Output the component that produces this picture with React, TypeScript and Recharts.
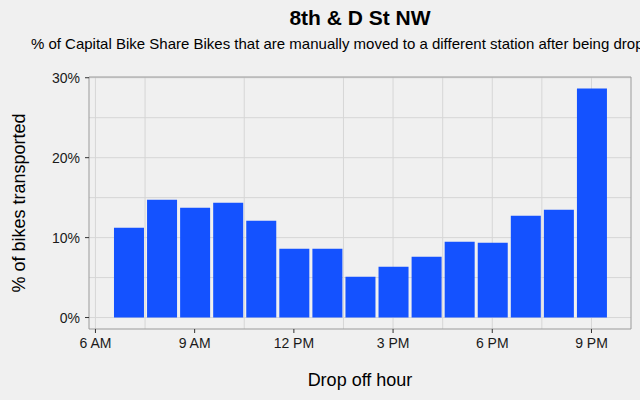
import { BarChart, Bar, XAxis, YAxis, CartesianGrid, ReferenceArea } from "recharts";

const hours = [7, 8, 9, 10, 11, 12, 13, 14, 15, 16, 17, 18, 19, 20, 21];
const pctMoved = [11.24, 14.75, 13.74, 14.37, 12.11, 8.6, 8.6, 5.1, 6.35, 7.6, 9.48, 9.36, 12.74, 13.49, 28.66];
const hourTicks = [6, 9, 12, 15, 18, 21];
const pctTicks = [0, 10, 20, 30];

const data = hours.map((h, i) => ({ hour: h, pct: pctMoved[i] }));

const FONT = '"Liberation Sans", Arial, Helvetica, sans-serif';
const BG = "#f0f0f0";
const X_DOMAIN: [number, number] = [5.805, 22.195];
const Y_DOMAIN: [number, number] = [-1.433, 30.093];

function hourLabel(h: number) {
  const suffix = h < 12 ? "AM" : "PM";
  const hh = h % 12 === 0 ? 12 : h % 12;
  return `${hh} ${suffix}`;
}

export default function App() {
  const tickStyle = { fill: "#1a1a1a", fontSize: 14, fontFamily: FONT };

  return (
    <div
      style={{
        position: "absolute",
        left: 0,
        top: 0,
        width: 640,
        height: 400,
        background: BG,
        fontFamily: FONT,
        overflow: "hidden",
      }}
    >
      <div
        style={{
          position: "absolute",
          left: 0,
          width: 720,
          top: 5,
          textAlign: "center",
          fontSize: 21,
          lineHeight: "26px",
          fontWeight: "bold",
          color: "#000",
        }}
      >
        8th &amp; D St NW
      </div>
      <div
        style={{
          position: "absolute",
          left: -200,
          width: 1120,
          top: 35,
          textAlign: "center",
          fontSize: 15,
          lineHeight: "18px",
          whiteSpace: "nowrap",
          color: "#000",
        }}
      >
        % of Capital Bike Share Bikes that are manually moved to a different station after being dropped off
      </div>

      <BarChart
        width={640}
        height={400}
        data={data}
        margin={{ top: 77, right: 9, bottom: 0, left: 0 }}
        style={{ position: "absolute", left: 0, top: 0 }}
      >
        <CartesianGrid
          stroke="#d6d6d6"
          strokeWidth={1}
          verticalValues={[6, 7.5, 9, 10.5, 12, 13.5, 15, 16.5, 18, 19.5, 21]}
          horizontalValues={[0, 5, 10, 15, 20, 25, 30]}
        />
        <ReferenceArea
          x1={X_DOMAIN[0]}
          x2={X_DOMAIN[1]}
          y1={Y_DOMAIN[0]}
          y2={Y_DOMAIN[1]}
          fill="none"
          stroke="#9a9a9a"
          strokeWidth={1}
          ifOverflow="extendDomain"
        />
        <XAxis
          type="number"
          dataKey="hour"
          domain={X_DOMAIN}
          ticks={hourTicks}
          allowDataOverflow
          tickFormatter={hourLabel}
          height={71}
          axisLine={false}
          tickLine={{ stroke: "#333" }}
          tickSize={4}
          tickMargin={5}
          tick={tickStyle}
        />
        <YAxis
          type="number"
          domain={Y_DOMAIN}
          ticks={pctTicks}
          allowDataOverflow
          tickFormatter={(v: number) => `${v}%`}
          width={89}
          axisLine={false}
          tickLine={{ stroke: "#333" }}
          tickSize={4}
          tickMargin={5}
          tick={tickStyle}
        />
        <Bar dataKey="pct" fill="#1452ff" barSize={30} isAnimationActive={false} />
      </BarChart>

      <div
        style={{
          position: "absolute",
          left: 0,
          width: 720,
          top: 370,
          textAlign: "center",
          fontSize: 18,
          lineHeight: "21px",
          color: "#000",
        }}
      >
        Drop off hour
      </div>
      <div
        style={{
          position: "absolute",
          left: 19,
          top: 203,
          transform: "translate(-50%, -50%) rotate(-90deg)",
          whiteSpace: "nowrap",
          fontSize: 18,
          lineHeight: "21px",
          color: "#000",
        }}
      >
        % of bikes transported
      </div>
    </div>
  );
}
